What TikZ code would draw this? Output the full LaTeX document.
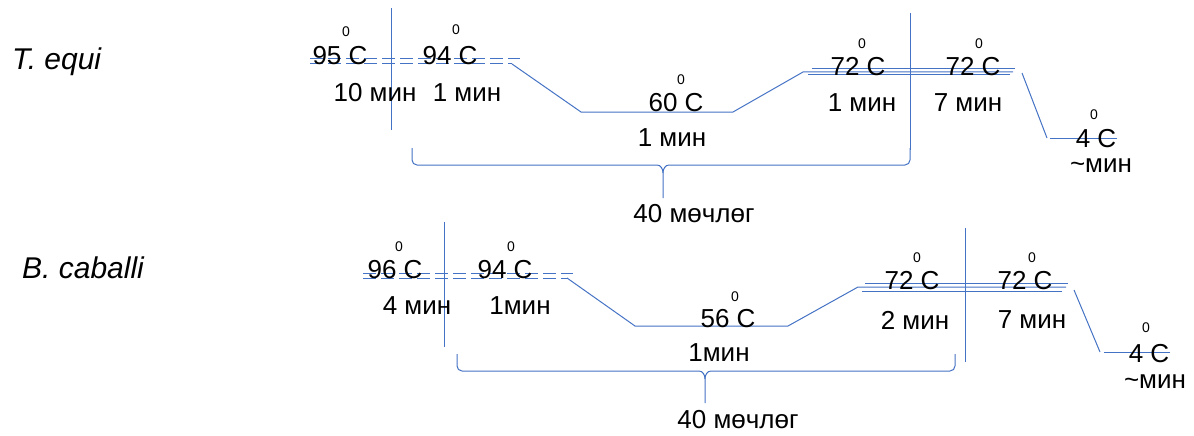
\documentclass[tikz,border=0pt]{standalone}
\usepackage{fontspec}
\setmainfont{Liberation Sans}
\definecolor{pcr}{RGB}{68,114,196}
\tikzset{
  prof/.style={draw=pcr, line width=1pt},
  dashprof/.style={draw=pcr, line width=1pt, dash pattern=on 13pt off 5pt},
  txt/.style={inner sep=0pt, font=\fontsize{26}{28}\selectfont},
  deg/.style={inner sep=0pt, font=\fontsize{14}{16}\selectfont},
  species/.style={inner sep=0pt, anchor=base west, font=\fontsize{30}{32}\selectfont\itshape},
}
\newcommand{\bracepath}[5]{% left x, right x, top y, tip x, tip bottom y
  \draw[prof] (#1,#3) -- ++(0,12) to[out=-90,in=180] ++(5,5) -- (#4-6,#3+17)
    to[out=0,in=90] (#4,#3+25) -- (#4,#5);
  \draw[prof] (#4,#3+25) to[out=90,in=180] (#4+6,#3+17) -- (#2-5,#3+17)
    to[out=0,in=-90] (#2,#3+12) -- (#2,#3);
}
\begin{document}
\begin{tikzpicture}[x=1pt,y=-1pt]
\useasboundingbox (0,0) rectangle (1194,436);

% species names
\node[species] (lt) at (12,70) {T. equi};
\node[species] (lb) at (22,278) {B. caballi};

% ---------- T. equi profile ----------
\coordinate (a1) at (512,64);
\coordinate (a2) at (581,112);
\coordinate (a3) at (733,112);
\coordinate (a4) at (803,72);
\coordinate (a5) at (1022,73);
\coordinate (a6) at (1047,138);
\draw[prof] (391,8) -- (391,130);
\draw[prof] (910,13) -- (910,150);
\draw[dashprof] (310,59) -- (520,59);
\draw[dashprof] (310,64) -- (a1);
\draw[prof] (a1) -- (a2) -- (a3) -- (a4) -- (1013,72);
\draw[prof] (812,69) -- (1015,69);
\draw[prof] (808,75) -- (1010,75);
\draw[prof] (a5) -- (a6);
\draw[prof] (1050,138) -- (1117,138);

\node[txt] (t1) at (340,56) {95 C};
\node[deg] (d1) at (346,32) {0};
\node[txt] (t2) at (450,56) {94 C};
\node[deg] (d2) at (456,30) {0};
\node[txt] (m1) at (375,93) {10 мин};
\node[txt] (m2) at (467,93) {1 мин};
\node[txt] (t3) at (676,103) {60 C};
\node[deg] (d3) at (681,80) {0};
\node[txt] (m3) at (672,138) {1 мин};
\node[txt] (t4) at (858,67) {72 C};
\node[deg] (d4) at (862,44) {0};
\node[txt] (t5) at (973,67) {72 C};
\node[deg] (d5) at (979,44) {0};
\node[txt] (m4) at (862,103) {1 мин};
\node[txt] (m5) at (968,103) {7 мин};
\node[txt] (t6) at (1096,139) {4 C};
\node[deg] (d6) at (1094,115) {0};
\node[txt] (m6) at (1101,166) {\textasciitilde мин};

\bracepath{412}{910}{148}{663}{198}
\node[txt] (c1) at (694,214) {40 мөчлөг};

% ---------- B. caballi profile ----------
\coordinate (b1) at (567,278);
\coordinate (b2) at (635,326);
\coordinate (b3) at (788,326);
\coordinate (b4) at (858,287);
\coordinate (b5) at (1074,290);
\coordinate (b6) at (1100,352);
\draw[prof] (444,222) -- (444,347);
\draw[prof] (965,228) -- (965,362);
\draw[dashprof] (363,273) -- (573,273);
\draw[dashprof] (363,278) -- (b1);
\draw[prof] (b1) -- (b2) -- (b3) -- (b4) -- (1066,287);
\draw[prof] (865,283) -- (1068,283);
\draw[prof] (862,291) -- (1062,291);
\draw[prof] (b5) -- (b6);
\draw[prof] (1104,352) -- (1170,352);

\node[txt] (u1) at (395,270) {96 C};
\node[deg] (e1) at (399,247) {0};
\node[txt] (u2) at (505,270) {94 C};
\node[deg] (e2) at (511,247) {0};
\node[txt] (n1) at (417,306) {4 мин};
\node[txt] (n2) at (520,306) {1мин};
\node[txt] (u3) at (728,319) {56 C};
\node[deg] (e3) at (735,297) {0};
\node[txt] (n3) at (719,353) {1мин};
\node[txt] (u4) at (912,281) {72 C};
\node[deg] (e4) at (917,258) {0};
\node[txt] (u5) at (1025,281) {72 C};
\node[deg] (e5) at (1032,258) {0};
\node[txt] (n4) at (915,320) {2 мин};
\node[txt] (n5) at (1032,320) {7 мин};
\node[txt] (u6) at (1149,354) {4 C};
\node[deg] (e6) at (1146,328) {0};
\node[txt] (n6) at (1155,382) {\textasciitilde мин};

\bracepath{457}{955}{354}{705}{403}
\node[txt] (c2) at (738,420) {40 мөчлөг};
\end{tikzpicture}
\end{document}
